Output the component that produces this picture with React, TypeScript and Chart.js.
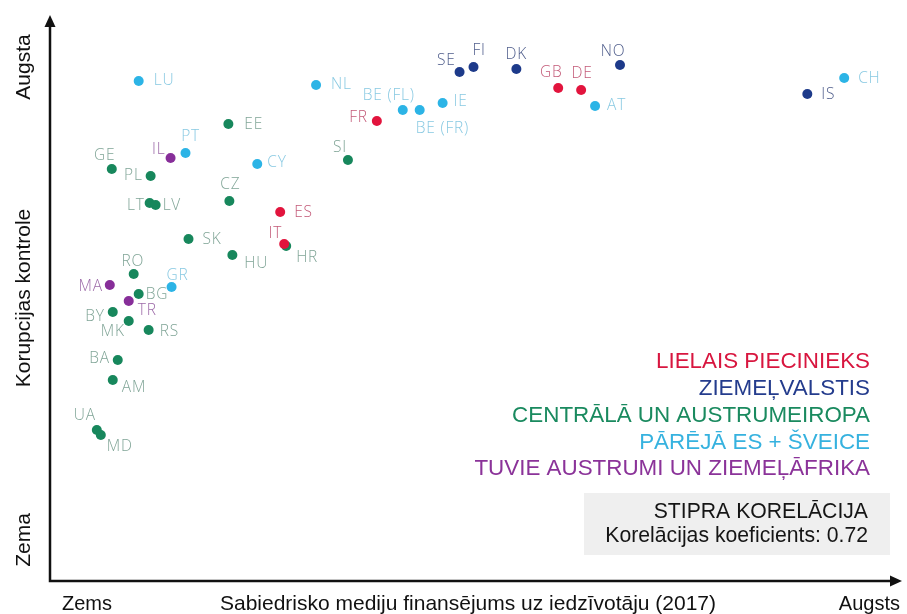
import React, { useEffect, useRef } from 'react';
import { Chart, registerables } from 'chart.js';

Chart.register(...registerables);

// ---------- DATA (arbitrary units) ----------
const groupNames = [
  'LIELAIS PIECINIEKS',
  'ZIEMEĻVALSTIS',
  'CENTRĀLĀ UN AUSTRUMEIROPA',
  'PĀRĒJĀ ES + ŠVEICE',
  'TUVIE AUSTRUMI UN ZIEMEĻĀFRIKA',
];

const bigFiveCodes = ['FR', 'ES', 'IT', 'GB', 'DE'];
const bigFiveX = [328, 231, 235, 510, 533];
const bigFiveY = [460, 369, 337, 493, 491];

const nordicCodes = ['SE', 'FI', 'DK', 'NO', 'IS'];
const nordicX = [411, 425, 468, 572, 760];
const nordicY = [509, 514, 512, 516, 487];

const ceeCodes = ['EE', 'SI', 'GE', 'PL', 'CZ', 'LT', 'LV', 'SK', 'HR', 'HU', 'RO', 'BG', 'BY', 'MK', 'RS', 'BA', 'AM', 'UA', 'MD'];
const ceeX = [179, 299, 62, 101, 180, 100, 106, 139, 237, 183, 84, 89, 63, 79, 99, 68, 63, 47, 51];
const ceeY = [457, 421, 412, 405, 380, 378, 376, 342, 335, 326, 307, 287, 269, 260, 251, 221, 201, 151, 146];

const otherEuCodes = ['LU', 'NL', 'BE (FL)', 'BE (FR)', 'IE', 'AT', 'CH', 'PT', 'CY', 'GR'];
const otherEuX = [89, 267, 354, 371, 394, 547, 797, 136, 208, 122];
const otherEuY = [500, 496, 471, 471, 478, 475, 503, 428, 417, 294];

const menaCodes = ['IL', 'MA', 'TR'];
const menaX = [121, 60, 79];
const menaY = [423, 296, 280];

const correlationTitle = 'STIPRA KORELĀCIJA';
const correlationText = 'Korelācijas koeficients: 0.72';

const xTitleLow = 'Zems';
const xTitle = 'Sabiedrisko mediju finansējums uz iedzīvotāju (2017)';
const xTitleHigh = 'Augsts';
const yTitleHigh = 'Augsta';
const yTitle = 'Korupcijas kontrole';
const yTitleLow = 'Zema';

// ---------- STYLES ----------
const dotColors = ['#e2143d', '#1d3a8a', '#17875c', '#2cb4e6', '#872e99'];
const labelColors = ['#c35a78', '#505e8c', '#80a597', '#88c9e2', '#9c6aa8'];
const legendColors = ['#d8163f', '#243c8d', '#1a8a5f', '#36b2df', '#8b3399'];

type Align = 'left' | 'right' | 'center';
// label offset from the dot: [dx, dy, textAlign]
const labelPlacement: Record<string, [number, number, Align]> = {
  LU: [15, 0, 'left'], NL: [15, 0, 'left'], 'BE (FL)': [-14, -14, 'center'], 'BE (FR)': [-4, 19, 'left'],
  IE: [11, -1, 'left'], FR: [-9, -3, 'right'], SI: [-1, -12, 'right'], SE: [-4, -11, 'right'],
  FI: [-1, -16, 'left'], DK: [0, -14, 'center'], GB: [-7, -15, 'center'], DE: [1, -16, 'center'],
  NO: [-7, -13, 'center'], AT: [12, 0, 'left'], IS: [14, 1, 'left'], CH: [14, 1, 'left'],
  EE: [16, 1, 'left'], PT: [5, -16, 'center'], IL: [-5, -8, 'right'], GE: [-7, -13, 'center'],
  PL: [-8, 0, 'right'], CY: [10, -1, 'left'], CZ: [1, -16, 'center'], LT: [-5, 3, 'right'],
  LV: [7, 1, 'left'], ES: [14, 1, 'left'], SK: [14, 1, 'left'], IT: [-2, -10, 'right'],
  HR: [10, 12, 'left'], HU: [12, 9, 'left'], RO: [-1, -12, 'center'], GR: [6, -11, 'center'],
  MA: [-7, 2, 'right'], BG: [7, 1, 'left'], TR: [9, 10, 'left'], BY: [-8, 5, 'right'],
  MK: [-4, 11, 'right'], RS: [11, 2, 'left'], BA: [-8, -1, 'right'], AM: [9, 8, 'left'],
  UA: [-12, -14, 'center'], MD: [6, 12, 'left'],
};

const SANS = '"Liberation Sans", Arial, Helvetica, sans-serif';
const LABEL_FONT = '300 15.5px "Open Sans", Lato, sans-serif';

function makeData(codes: string[], xs: number[], ys: number[]) {
  return codes.map((c, i) => ({ x: xs[i], y: ys[i], code: c }));
}

const groups = [
  makeData(bigFiveCodes, bigFiveX, bigFiveY),
  makeData(nordicCodes, nordicX, nordicY),
  makeData(ceeCodes, ceeX, ceeY),
  makeData(otherEuCodes, otherEuX, otherEuY),
  makeData(menaCodes, menaX, menaY),
];

const decorPlugin = {
  id: 'decor',
  beforeDatasetsDraw(chart: any) {
    const ctx = chart.ctx as CanvasRenderingContext2D;
    const xs = chart.scales.x;
    const ys = chart.scales.y;
    const x0 = xs.getPixelForValue(xs.min);
    const x1 = xs.getPixelForValue(xs.max);
    const y0 = ys.getPixelForValue(ys.min);
    const y1 = ys.getPixelForValue(ys.max);
    ctx.save();
    ctx.strokeStyle = '#111';
    ctx.fillStyle = '#111';
    ctx.lineWidth = 2.5;
    ctx.beginPath();
    ctx.moveTo(x0, y1 + 8);
    ctx.lineTo(x0, y0);
    ctx.lineTo(x1 - 8, y0);
    ctx.stroke();
    // arrowheads
    ctx.beginPath();
    ctx.moveTo(x0, y1);
    ctx.lineTo(x0 - 5.5, y1 + 12);
    ctx.lineTo(x0 + 5.5, y1 + 12);
    ctx.closePath();
    ctx.fill();
    ctx.beginPath();
    ctx.moveTo(x1, y0);
    ctx.lineTo(x1 - 12, y0 - 5.5);
    ctx.lineTo(x1 - 12, y0 + 5.5);
    ctx.closePath();
    ctx.fill();
    ctx.restore();
  },
  afterDatasetsDraw(chart: any) {
    const ctx = chart.ctx as CanvasRenderingContext2D;
    ctx.save();
    // point labels
    ctx.font = LABEL_FONT;
    (ctx as any).letterSpacing = '0.8px';
    ctx.textBaseline = 'middle';
    chart.data.datasets.forEach((ds: any, di: number) => {
      const meta = chart.getDatasetMeta(di);
      ctx.fillStyle = labelColors[di];
      meta.data.forEach((el: any, i: number) => {
        const code = ds.data[i].code;
        const p = labelPlacement[code] || [12, 0, 'left'];
        ctx.textAlign = p[2];
        ctx.fillText(code, el.x + p[0], el.y + p[1]);
      });
    });
    (ctx as any).letterSpacing = '0px';

    // legend
    ctx.font = `22.4px ${SANS}`;
    ctx.textAlign = 'right';
    groupNames.forEach((name, i) => {
      ctx.fillStyle = legendColors[i];
      ctx.fillText(name, 870, 362 + i * 26.8);
    });

    // correlation box
    ctx.fillStyle = '#efefef';
    ctx.fillRect(584, 493, 306, 62);
    ctx.font = `21.2px ${SANS}`;
    ctx.fillStyle = '#151515';
    ctx.fillText(correlationTitle, 868, 512);
    ctx.fillText(correlationText, 868, 536);

    // axis titles
    ctx.font = `20px ${SANS}`;
    ctx.fillStyle = '#111';
    ctx.textAlign = 'left';
    ctx.fillText(xTitleLow, 62, 604);
    ctx.textAlign = 'right';
    ctx.fillText(xTitleHigh, 900, 604);
    ctx.font = `21px ${SANS}`;
    ctx.textAlign = 'center';
    ctx.fillText(xTitle, 468, 604);

    ctx.translate(24, 0);
    ctx.rotate(-Math.PI / 2);
    ctx.textAlign = 'center';
    ctx.fillText(yTitleHigh, -67, 0);
    ctx.fillText(yTitle, -298, 0);
    ctx.fillText(yTitleLow, -540, 0);
    ctx.restore();
  },
};

export default function App() {
  const ref = useRef<HTMLCanvasElement | null>(null);
  useEffect(() => {
    if (!ref.current) return;
    const chart = new Chart(ref.current, {
      type: 'scatter',
      data: {
        datasets: groups.map((d, i) => ({
          label: groupNames[i],
          data: d,
          backgroundColor: dotColors[i],
          borderWidth: 0,
          pointRadius: 5,
          pointHoverRadius: 5,
          clip: false as any,
        })),
      },
      options: {
        animation: false,
        responsive: false,
        events: [],
        layout: { padding: { left: 50, top: 15, right: 2, bottom: 33 } },
        scales: {
          x: { type: 'linear', min: 0, max: 855, display: false },
          y: { type: 'linear', min: 0, max: 566, display: false },
        },
        plugins: { legend: { display: false }, tooltip: { enabled: false } },
      },
      plugins: [decorPlugin],
    });
    return () => chart.destroy();
  }, []);
  return (
    <div style={{ position: 'fixed', left: 0, top: 0, width: 907, height: 614, background: '#fff' }}>
      <canvas ref={ref} width={907} height={614} style={{ display: 'block' }} />
    </div>
  );
}
